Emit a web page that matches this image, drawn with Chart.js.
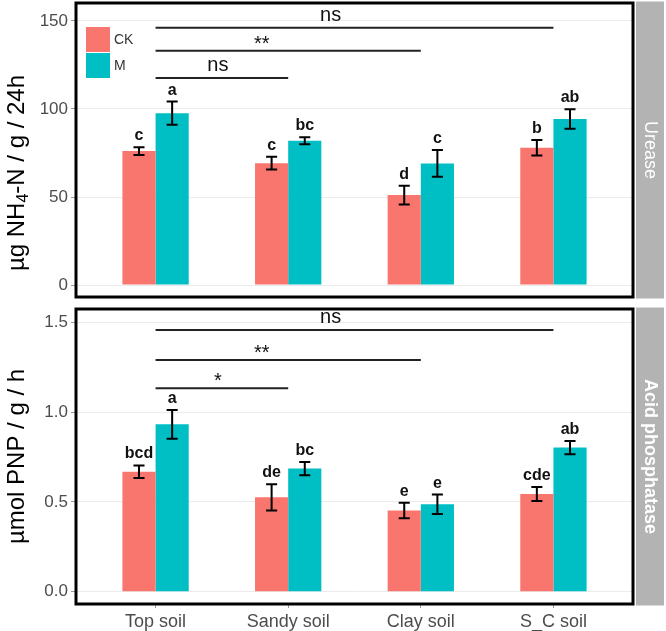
<!DOCTYPE html>
<html>
<head>
<meta charset="utf-8">
<title>Urease / Acid phosphatase</title>
<script src="https://cdn.jsdelivr.net/npm/chart.js@4/dist/chart.umd.min.js"></script>
<style>
  html, body { margin: 0; padding: 0; background: #fff; }
  #wrap { position: relative; width: 666px; height: 631px; }
  .box { position: absolute; left: 0; width: 666px; }
</style>
</head>
<body>
<div id="wrap">
  <div class="box" style="top:0;height:300px"><canvas id="ureaseChart"></canvas></div>
  <div class="box" style="top:300px;height:331px"><canvas id="acidChart"></canvas></div>
</div>
<script>
// ==========================
// data
// ==========================
const soils = ["Top soil", "Sandy soil", "Clay soil", "S_C soil"];
const groups = ["CK", "M"];
const groupColors = ["#F8766D", "#00BFC4"];

// urease (µg NH4-N / g / 24h)
const ureaseCK = [76.1, 69.2, 51.1, 78.0];
const ureaseM = [97.6, 81.9, 69.1, 94.3];
const ureaseCKErr = [2.2, 3.6, 5.3, 4.4];
const ureaseMErr = [6.6, 2.0, 7.6, 5.5];
const ureaseCKLetters = ["c", "c", "d", "b"];
const ureaseMLetters = ["a", "bc", "c", "ab"];

// acid phosphatase (µmol PNP / g / h)
const acidCK = [0.669, 0.526, 0.452, 0.545];
const acidM = [0.933, 0.686, 0.487, 0.803];
const acidCKErr = [0.035, 0.073, 0.043, 0.039];
const acidMErr = [0.080, 0.037, 0.054, 0.037];
const acidCKLetters = ["bcd", "de", "e", "cde"];
const acidMLetters = ["a", "bc", "e", "ab"];

// Top soil vs Sandy / Clay / S_C
const sigPairs = [[0, 1], [0, 2], [0, 3]];
const sigTextX = [1.47, 1.8, 2.32];
const ureaseSig = ["ns", "**", "ns"];
const ureaseSigY = [117.6, 133.1, 146.2];
const acidSig = ["*", "**", "ns"];
const acidSigY = [1.134, 1.291, 1.459];

const FONT = '"Liberation Sans", Arial, Helvetica, sans-serif';

// ==========================
// panel decorations (error bars, letters, brackets, border, strip, y title)
// ==========================
const decor = {
    id: "decor",
    afterDatasetsDraw(chart, args, o) {
        const ctx = chart.ctx;
        const area = chart.chartArea;
        const xs = chart.scales.x, ys = chart.scales.y;
        ctx.save();

        // error bars + letters
        o.errors.forEach((errs, di) => {
            const meta = chart.getDatasetMeta(di);
            const vals = chart.data.datasets[di].data;
            meta.data.forEach((bar, i) => {
                const v = vals[i].y, e = errs[i];
                const yHi = ys.getPixelForValue(v + e);
                const yLo = ys.getPixelForValue(v - e);
                const cap = bar.width / 3;
                ctx.strokeStyle = "#000";
                ctx.lineWidth = 2;
                ctx.beginPath();
                ctx.moveTo(bar.x, yHi); ctx.lineTo(bar.x, yLo);
                ctx.moveTo(bar.x - cap / 2, yHi); ctx.lineTo(bar.x + cap / 2, yHi);
                ctx.moveTo(bar.x - cap / 2, yLo); ctx.lineTo(bar.x + cap / 2, yLo);
                ctx.stroke();
                ctx.fillStyle = "#111";
                ctx.font = "bold 16px " + FONT;
                ctx.textAlign = "center";
                ctx.textBaseline = "alphabetic";
                ctx.fillText(o.letters[di][i], bar.x, yHi - 7);
            });
        });

        // significance brackets
        sigPairs.forEach(([a, b], k) => {
            const y = ys.getPixelForValue(o.sigY[k]);
            ctx.strokeStyle = "#222";
            ctx.lineWidth = 2;
            ctx.beginPath();
            ctx.moveTo(xs.getPixelForValue(a + 1), y);
            ctx.lineTo(xs.getPixelForValue(b + 1), y);
            ctx.stroke();
            const lab = o.sig[k];
            ctx.fillStyle = "#111";
            ctx.font = "20px " + FONT;
            ctx.textAlign = "center";
            ctx.textBaseline = "alphabetic";
            ctx.fillText(lab, xs.getPixelForValue(sigTextX[k]), y - (lab === "ns" ? 7 : 1));
        });

        // legend inside panel
        if (o.legend) {
            chart.data.datasets.forEach((ds, i) => {
                const ky = area.top + 24 + i * 26;
                ctx.fillStyle = ds.backgroundColor;
                ctx.fillRect(area.left + 10, ky, 24, 25);
                ctx.fillStyle = "#333";
                ctx.font = "14px " + FONT;
                ctx.textAlign = "left";
                ctx.textBaseline = "middle";
                ctx.fillText(ds.label, area.left + 38, ky + 13);
            });
        }

        // panel border
        ctx.strokeStyle = "#000";
        ctx.lineWidth = 3;
        ctx.strokeRect(area.left, area.top, area.right - area.left, area.bottom - area.top);

        // facet strip
        const sx = area.right + 3;
        ctx.fillStyle = "#B3B3B3";
        ctx.fillRect(sx, area.top - 1.5, 28, area.bottom - area.top + 3);
        ctx.translate(sx + 14, (area.top + area.bottom) / 2);
        ctx.rotate(Math.PI / 2);
        ctx.fillStyle = "#fff";
        ctx.font = (o.stripBold ? "bold " : "") + "18px " + FONT;
        ctx.textAlign = "center";
        ctx.textBaseline = "middle";
        ctx.fillText(o.strip, 0, 0);
        ctx.restore();

        // y title, pieces so the subscript can be smaller
        ctx.save();
        ctx.translate(17, (area.top + area.bottom) / 2 + o.titleShift);
        ctx.rotate(-Math.PI / 2);
        ctx.fillStyle = "#000";
        ctx.textBaseline = "middle";
        ctx.textAlign = "left";
        const parts = o.title.map(p => {
            ctx.font = (p.sub ? "16px " : "24px ") + FONT;
            return { ...p, w: ctx.measureText(p.t).width };
        });
        let tx = -parts.reduce((s, p) => s + p.w, 0) / 2;
        for (const p of parts) {
            ctx.font = (p.sub ? "16px " : "24px ") + FONT;
            ctx.fillText(p.t, tx, p.sub ? 7 : 0);
            tx += p.w;
        }
        ctx.restore();
    }
};

function toPoints(vals) {
    return vals.map((v, i) => ({ x: i + 1, y: v }));
}

function makeChart(id, cfg) {
    const ctx = document.getElementById(id);
    return new Chart(ctx, {
        type: "bar",
        data: {
            datasets: [
                { label: groups[0], data: toPoints(cfg.ck), backgroundColor: groupColors[0] },
                { label: groups[1], data: toPoints(cfg.m), backgroundColor: groupColors[1] }
            ]
        },
        plugins: [decor],
        options: {
            responsive: true,
            maintainAspectRatio: false,
            animation: false,
            categoryPercentage: 0.5,
            barPercentage: 1.0,
            layout: { padding: cfg.padding },
            plugins: {
                legend: { display: false },
                tooltip: { enabled: false },
                decor: cfg.decor
            },
            scales: {
                x: {
                    type: "linear",
                    display: cfg.showX,
                    min: 0.4,
                    max: 4.6,
                    offset: false,
                    border: { display: false },
                    grid: { drawOnChartArea: false, offset: false, tickLength: 4, tickColor: "#999" },
                    ticks: {
                        stepSize: 1,
                        includeBounds: false,
                        padding: 3,
                        color: "#4D4D4D",
                        font: { family: FONT, size: 18 },
                        callback: v => soils[v - 1] || ""
                    },
                    afterFit: s => {
                        s.height = cfg.showX ? 27 : 0;
                        s.paddingLeft = 0;
                        s.paddingRight = 0;
                    }
                },
                y: {
                    min: cfg.yMin,
                    max: cfg.yMax,
                    border: { display: false },
                    grid: { color: "#EBEBEB", lineWidth: 1, tickLength: 5, tickColor: "#999" },
                    ticks: {
                        stepSize: cfg.step,
                        includeBounds: false,
                        padding: 3,
                        color: "#4D4D4D",
                        font: { family: FONT, size: 17 },
                        callback: cfg.fmt
                    },
                    afterFit: s => { s.width = 76; s.paddingTop = 0; s.paddingBottom = 0; }
                }
            }
        }
    });
}

makeChart("ureaseChart", {
    ck: ureaseCK, m: ureaseM,
    yMin: -6.8, yMax: 160.2, step: 50,
    fmt: v => String(v),
    showX: false,
    padding: { top: 3, bottom: 3, left: 0, right: 33 },
    decor: {
        errors: [ureaseCKErr, ureaseMErr],
        letters: [ureaseCKLetters, ureaseMLetters],
        sig: ureaseSig, sigY: ureaseSigY,
        legend: true,
        strip: "Urease", stripBold: false,
        title: [{ t: "\u00b5g NH" }, { t: "4", sub: true }, { t: "-N / g / 24h" }],
        titleShift: 23
    }
});

makeChart("acidChart", {
    ck: acidCK, m: acidM,
    yMin: -0.069, yMax: 1.576, step: 0.5,
    fmt: v => v.toFixed(1),
    showX: true,
    padding: { top: 9, bottom: 0, left: 0, right: 33 },
    decor: {
        errors: [acidCKErr, acidMErr],
        letters: [acidCKLetters, acidMLetters],
        sig: acidSig, sigY: acidSigY,
        legend: false,
        strip: "Acid phosphatase", stripBold: true,
        title: [{ t: "\u00b5mol PNP / g / h" }],
        titleShift: 0
    }
});
</script>
</body>
</html>
